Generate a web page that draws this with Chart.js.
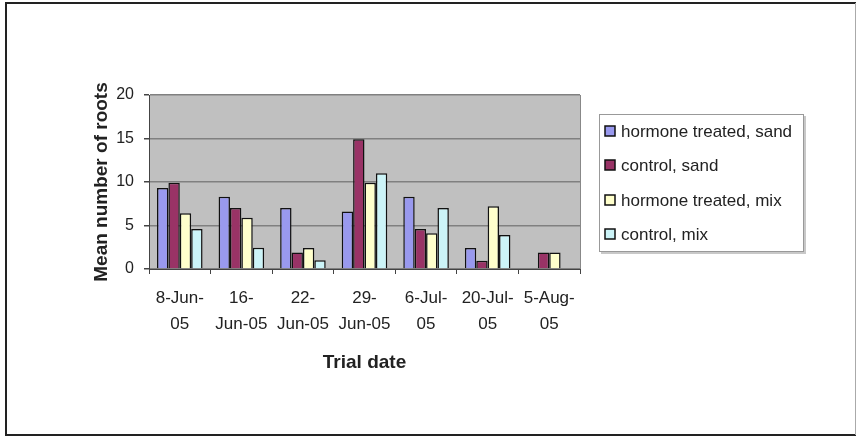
<!DOCTYPE html>
<html>
<head>
<meta charset="utf-8">
<script src="https://cdn.jsdelivr.net/npm/chart.js@4/dist/chart.umd.min.js"></script>
<style>
  body { margin: 0; background: #fff; }
  canvas { display: block; }
</style>
</head>
<body>
<canvas id="myChart" width="857" height="437"></canvas>
<script>
// trial dates (two line labels like the excel chart)
const trialDates = [
  ["8-Jun-", "05"], ["16-", "Jun-05"], ["22-", "Jun-05"], ["29-", "Jun-05"],
  ["6-Jul-", "05"], ["20-Jul-", "05"], ["5-Aug-", "05"]
];
const seriesNames = ["hormone treated, sand", "control, sand", "hormone treated, mix", "control, mix"];
const hormoneSand = [9.3, 8.3, 7.0, 6.6, 8.3, 2.4, null];
const controlSand = [9.9, 7.0, 1.9, 14.9, 4.6, 0.95, 1.9];
const hormoneMix = [6.4, 5.9, 2.4, 9.9, 4.1, 7.2, 1.9];
const controlMix = [4.6, 2.45, 1.0, 11.0, 7.0, 3.9, null];
const yTicks = [0, 5, 10, 15, 20];

const colors = ["#9999ee", "#993366", "#ffffcc", "#ccf4f8"];
const font = "'Liberation Sans', Arial, sans-serif";

let ctx = document.getElementById('myChart').getContext('2d');

// grey plot area, border frame and legend box
const excelLook = {
  id: 'excelLook',
  beforeDraw(chart) {
    const c = chart.ctx, a = chart.chartArea;
    c.save();
    c.fillStyle = "#c0c0c0";
    c.fillRect(a.left, a.top, a.right - a.left, a.bottom - a.top);
    c.restore();
  },
  afterDraw(chart) {
    const c = chart.ctx, a = chart.chartArea;
    c.save();
    // plot right edge
    c.strokeStyle = "#888";
    c.lineWidth = 1;
    c.beginPath();
    c.moveTo(a.right + 0.5, a.top);
    c.lineTo(a.right + 0.5, a.bottom);
    c.stroke();

    // outer frame
    c.strokeStyle = "#222";
    c.lineWidth = 2;
    c.beginPath();
    c.moveTo(856, 3); c.lineTo(6, 3); c.lineTo(6, 435); c.lineTo(856, 435);
    c.stroke();
    c.strokeStyle = "#aaa";
    c.lineWidth = 1;
    c.beginPath();
    c.moveTo(855.5, 3); c.lineTo(855.5, 435);
    c.stroke();

    // legend
    const lx = 599, ly = 114, lw = 204, lh = 137;
    c.fillStyle = "#fff";
    c.fillRect(lx, ly, lw, lh);
    c.strokeStyle = "#c8c8c8";
    c.lineWidth = 2;
    c.beginPath();
    c.moveTo(lx + lw + 2, ly + 2); c.lineTo(lx + lw + 2, ly + lh + 2); c.lineTo(lx + 2, ly + lh + 2);
    c.stroke();
    c.strokeStyle = "#999";
    c.lineWidth = 1;
    c.strokeRect(lx + 0.5, ly + 0.5, lw, lh);

    const rows = [131, 165, 200, 234];
    c.font = "17px " + font;
    c.textBaseline = "middle";
    chart.data.datasets.forEach((ds, i) => {
      c.fillStyle = ds.backgroundColor;
      c.fillRect(605, rows[i] - 5, 10, 10);
      c.strokeStyle = "#111";
      c.lineWidth = 1.5;
      c.strokeRect(605, rows[i] - 5, 10, 10);
      c.fillStyle = "#222";
      c.fillText(ds.label, 621, rows[i] + 1);
    });
    c.restore();
  }
};

const datasets = [hormoneSand, controlSand, hormoneMix, controlMix].map((vals, i) => ({
  label: seriesNames[i],
  data: vals,
  backgroundColor: colors[i],
  borderColor: "#111",
  borderWidth: 1.5,
  categoryPercentage: 0.74,
  barPercentage: 1
}));

const myChart = new Chart(ctx, {
  type: 'bar',
  data: {
    labels: trialDates,
    datasets: datasets
  },
  options: {
    responsive: false,
    animation: false,
    layout: {
      padding: { left: 90, top: 95, right: 277, bottom: 61 }
    },
    scales: {
      x: {
        grid: {
          offset: true,
          drawOnChartArea: false,
          drawTicks: true,
          tickLength: 5,
          color: "#444"
        },
        border: { color: "#444", width: 1 },
        ticks: {
          color: "#222",
          padding: 11,
          maxRotation: 0,
          autoSkip: false,
          font: { family: font, size: 17, lineHeight: 1.53 }
        },
        title: {
          display: true,
          text: "Trial date",
          color: "#222",
          padding: { top: 0, bottom: 2 },
          font: { family: font, size: 19, weight: "bold" }
        },
        afterFit(scale) { scale.height = 107; }
      },
      y: {
        min: 0,
        max: 20,
        afterBuildTicks(scale) { scale.ticks = yTicks.map(v => ({ value: v })); },
        grid: {
          color: "#808080",
          lineWidth: 1.5,
          tickLength: 5,
          tickColor: "#444"
        },
        border: { color: "#444", width: 1 },
        ticks: {
          color: "#222",
          padding: 10,
          font: { family: font, size: 16 }
        },
        title: {
          display: true,
          text: "Mean number of roots",
          color: "#222",
          padding: { top: 0, bottom: 0 },
          font: { family: font, size: 19, weight: "bold" }
        },
        afterFit(scale) { scale.width = 59; }
      }
    },
    plugins: {
      legend: { display: false },
      tooltip: { enabled: false }
    }
  },
  plugins: [excelLook]
});
</script>
</body>
</html>
